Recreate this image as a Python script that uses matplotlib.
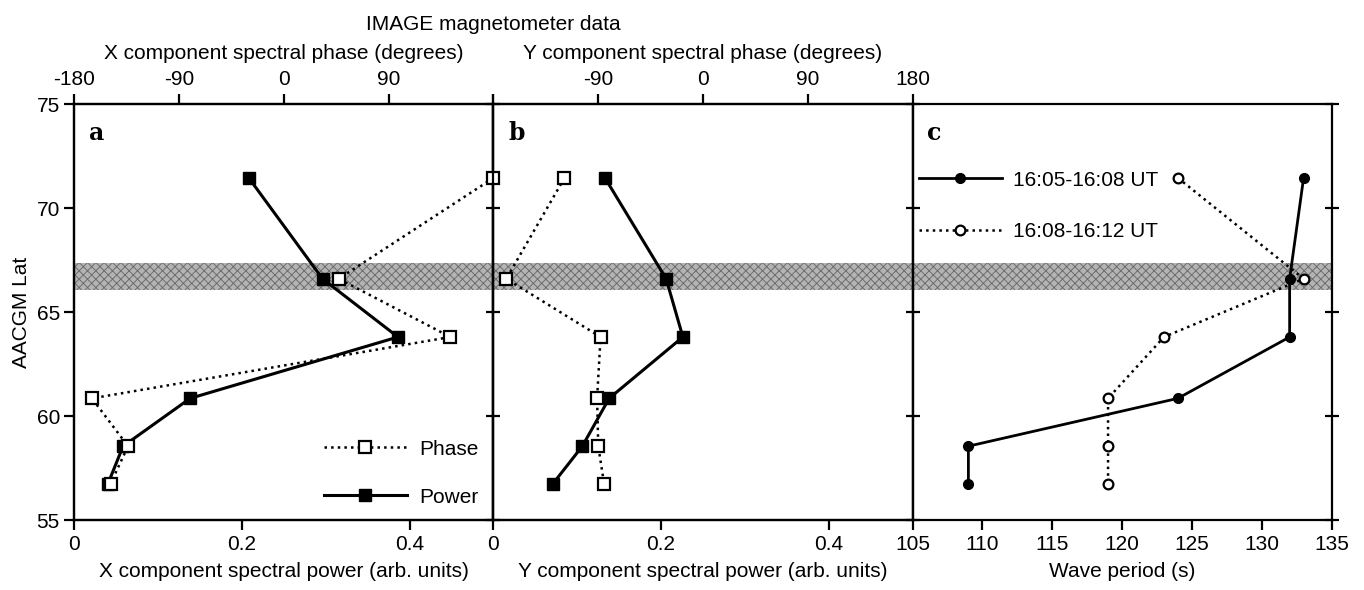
import matplotlib.pyplot as plt
from matplotlib.lines import Line2D

plt.rcParams['font.family'] = ['Liberation Sans', 'DejaVu Sans']
plt.rcParams['hatch.linewidth'] = 0.7

# latitudes of the stations (AACGM)
lat = [71.45, 66.6, 63.8, 60.85, 58.55, 56.75]

# panel a: X component
x_power = [0.208, 0.296, 0.386, 0.138, 0.058, 0.040]
x_phase = [180, 47, 143, -165, -134, -149]

# panel b: Y component
y_power = [0.133, 0.206, 0.226, 0.138, 0.106, 0.071]
y_phase = [-119, -169, -88, -91, -90, -85]

# panel c: wave period
period_1 = [133, 132, 132, 124, 109, 109]
period_2 = [124, 133, 123, 119, 119, 119]
label_1 = '16:05-16:08 UT'
label_2 = '16:08-16:12 UT'

band = (66.07, 67.35)

fig = plt.figure(figsize=(13.64, 5.90), dpi=100)
left, bottom, w, h = 0.0546, 0.1186, 0.3072, 0.705
axa = fig.add_axes([left, bottom, w, h])
axb = fig.add_axes([left + w, bottom, w, h])
axc = fig.add_axes([left + 2 * w, bottom, w, h])

fs = 15
for ax in (axa, axb, axc):
    ax.set_ylim(55, 75)
    ax.axhspan(band[0], band[1], facecolor='#b4b4b4', edgecolor='#6e6e6e',
               hatch='xxxx', lw=0, zorder=0)
    for s in ax.spines.values():
        s.set_linewidth(1.6)
    ax.tick_params(labelsize=fs, width=1.6, length=7)
    ax.set_yticks([55, 60, 65, 70, 75])

axa.tick_params(axis='y', direction='out')
axa.set_ylabel('AACGM Lat', fontsize=fs, labelpad=4)
axb.tick_params(axis='y', direction='inout', labelleft=False, length=10)
axc.tick_params(axis='y', direction='inout', labelleft=False, length=10)
axc.tick_params(axis='y', which='both', right=True, labelright=False)

for ax, pw, ph, name in ((axa, x_power, x_phase, 'X'), (axb, y_power, y_phase, 'Y')):
    ax.set_xlim(0, 0.5)
    ax.set_xticks([0, 0.2, 0.4])
    ax.set_xticklabels(['0', '0.2', '0.4'])
    ax.set_xlabel(name + ' component spectral power (arb. units)', fontsize=fs, labelpad=6)
    ax.plot(pw, lat, '-', color='black', lw=2.2, marker='s', ms=8,
            mfc='black', mec='black', zorder=3, clip_on=False)
    top = ax.twiny()
    top.set_xlim(-180, 180)
    top.set_ylim(55, 75)
    top.set_xticks([-180, -90, 0, 90, 180])
    top.tick_params(labelsize=fs, width=1.6, length=7, direction='out')
    for s in top.spines.values():
        s.set_linewidth(1.6)
    top.set_xlabel(name + ' component spectral phase (degrees)', fontsize=fs, labelpad=8)
    top.plot(ph, lat, ':', color='black', lw=1.8, marker='s', ms=8,
             mfc='white', mec='black', mew=1.6, zorder=4, clip_on=False)
    ax.top_ax = top

axa.top_ax.set_xticklabels(['-180', '-90', '0', '90', ''])
axb.top_ax.set_xticklabels(['', '-90', '0', '90', '180'])

axc.set_xlim(105, 135)
axc.set_xticks([105, 110, 115, 120, 125, 130, 135])
axc.set_xlabel('Wave period (s)', fontsize=fs, labelpad=6)
axc.plot(period_1, lat, '-', color='black', lw=2.0, marker='o', ms=7,
         mfc='black', mec='black', label=label_1, clip_on=False)
axc.plot(period_2, lat, ':', color='black', lw=1.8, marker='o', ms=7,
         mfc='white', mec='black', mew=1.6, label=label_2, clip_on=False)
axc.legend(loc='upper left', bbox_to_anchor=(-0.005, 0.86), frameon=False,
           fontsize=fs, handlelength=4.0, handletextpad=0.5, labelspacing=1.55,
           borderaxespad=0)

# legend for panel a
handles = [Line2D([], [], ls=':', color='black', lw=1.8, marker='s', ms=8,
                  mfc='white', mec='black', mew=1.6),
           Line2D([], [], ls='-', color='black', lw=2.2, marker='s', ms=8,
                  mfc='black', mec='black')]
axa.top_ax.legend(handles, ['Phase', 'Power'], loc='lower right',
                  bbox_to_anchor=(0.985, 0.012), frameon=False, fontsize=fs,
                  handlelength=4.0, handletextpad=0.6, labelspacing=1.4,
                  borderaxespad=0)

for ax, letter in ((axa, 'a'), (axb, 'b'), (axc, 'c')):
    ax.text(0.035, 0.96, letter, transform=ax.transAxes, fontsize=17,
            fontweight='bold', family='DejaVu Serif', va='top', ha='left', zorder=5)

fig.text(left + w, 0.975, 'IMAGE magnetometer data', ha='center', va='top', fontsize=fs)

fig.savefig('out.png', dpi=100)
